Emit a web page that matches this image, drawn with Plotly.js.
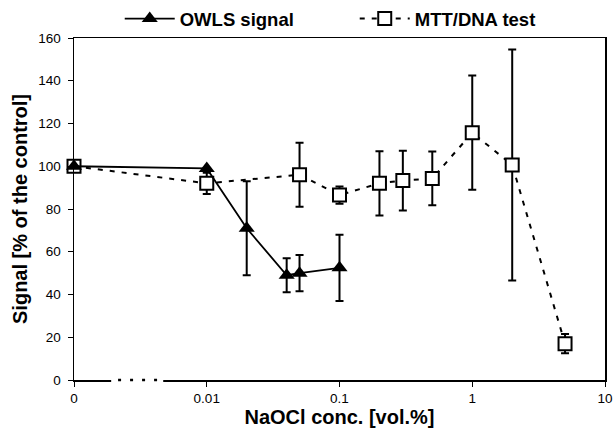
<!DOCTYPE html>
<html><head><meta charset="utf-8">
<script src="https://cdn.plot.ly/plotly-3.0.1.min.js"></script>
<style>body{margin:0;background:#fff}#c{width:614px;height:433px}</style>
</head><body><div id="c"></div>
<script>
// x = 0.001 represents the "0" (control) position on the broken log axis
const owlsX   = [0.001, 0.01, 0.02, 0.04, 0.05, 0.1];
const owlsY   = [100, 99, 71, 49, 50, 52.5];
const owlsErr = [0, 0, 22, 8, 8.5, 15.5];

const mttX   = [0.001, 0.01, 0.05, 0.1, 0.2, 0.3, 0.5, 1, 2, 5];
const mttY   = [100, 92, 96, 86.5, 92, 93.3, 94.3, 115.7, 100.6, 17];
const mttErr = [0, 5, 15, 4, 15, 14, 12.6, 26.7, 54, 4.5];

const tickVals = [0.001, 0.01, 0.1, 1, 10];
const tickText = ['0', '0.01', '0.1', '1', '10'];
const yTicks = [0, 20, 40, 60, 80, 100, 120, 140, 160];

const traces = [
  {
    x: mttX, y: mttY, name: 'MTT/DNA test', type: 'scatter', mode: 'lines+markers',
    line: {color: '#000', width: 2, dash: '5px,7px'},
    marker: {symbol: 'square', size: 13, color: '#fff', line: {color: '#000', width: 2}},
    error_y: {type: 'data', array: mttErr, visible: true, color: '#000', thickness: 2, width: 4},
    cliponaxis: false
  },
  {
    x: owlsX, y: owlsY, name: 'OWLS signal', type: 'scatter', mode: 'lines+markers',
    line: {color: '#000', width: 1.8},
    marker: {symbol: 'triangle-up', size: 14, color: '#000'},
    error_y: {type: 'data', array: owlsErr, visible: true, color: '#000', thickness: 2, width: 4},
    cliponaxis: false
  }
];

const layout = {
  width: 614, height: 433,
  margin: {l: 74, r: 9, t: 38, b: 53},
  paper_bgcolor: '#fff', plot_bgcolor: '#fff',
  font: {family: 'Liberation Sans, Arial, sans-serif', color: '#000', size: 13.5},
  showlegend: true,
  legend: {orientation: 'h', xref: 'container', yref: 'container', x: 0.195, xanchor: 'left',
           y: 1.0, yanchor: 'top', entrywidth: 170,
           traceorder: 'reversed', font: {size: 18.5, family: 'Liberation Sans, Arial, sans-serif', weight: 'bold'},
           itemwidth: 50, bgcolor: 'rgba(0,0,0,0)'},
  xaxis: {
    type: 'log', range: [-3, 1], tickvals: tickVals, ticktext: tickText,
    showgrid: false, zeroline: false, showline: true, linecolor: '#000', linewidth: 1.5,
    mirror: true, ticks: 'outside', ticklen: 5, tickcolor: '#000', tickwidth: 1,
    title: {text: 'NaOCl conc. [vol.%]', font: {size: 20, weight: 'bold'}, standoff: 5}
  },
  yaxis: {
    range: [0, 160], tickvals: yTicks,
    showgrid: false, zeroline: false, showline: true, linecolor: '#000', linewidth: 1.5,
    mirror: true, ticks: 'outside', ticklen: 5, tickcolor: '#000', tickwidth: 1,
    ticklabelstandoff: 4,
    title: {text: 'Signal [% of the control]', font: {size: 20, weight: 'bold'}, standoff: 5}
  },
  shapes: [
    {type: 'rect', xref: 'paper', yref: 'paper', x0: 0.07, x1: 0.168, y0: -0.006, y1: 0.006,
     fillcolor: '#fff', line: {width: 0}, layer: 'above'},
    {type: 'line', xref: 'paper', yref: 'paper', x0: 0.083, x1: 0.16, y0: 0, y1: 0,
     line: {color: '#000', width: 2.5, dash: '3px,9px'}, layer: 'above'}
  ]
};

Plotly.newPlot('c', traces, layout, {displayModeBar: false, staticPlot: true});
</script></body></html>
